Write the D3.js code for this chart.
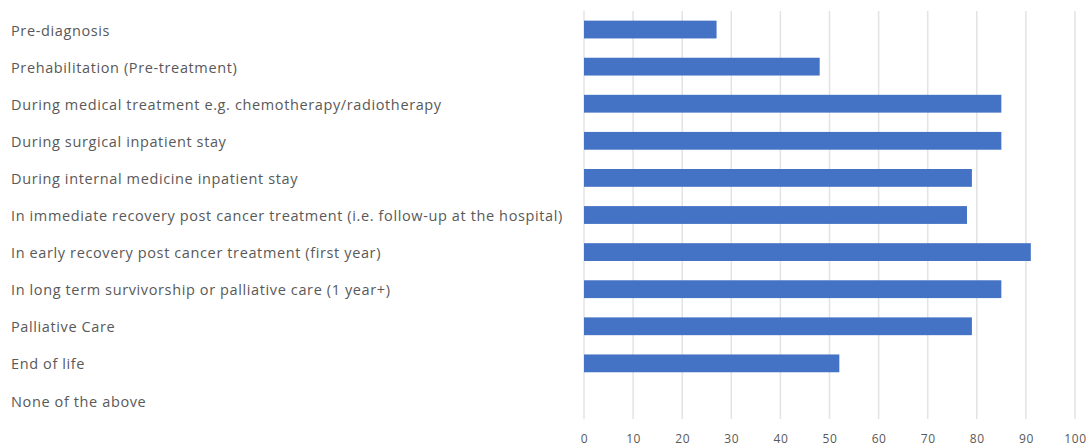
<!DOCTYPE html>
<html>
<head>
<meta charset="utf-8">
<script src="https://cdn.jsdelivr.net/npm/d3@7"></script>
<style>
  html, body { margin: 0; padding: 0; background: #ffffff; }
  svg { display: block; }
</style>
</head>
<body>
<svg id="chart" width="1086" height="447"></svg>
<script>
// Stages of the cancer pathway and the share of responses for each
const stages = [
  "Pre-diagnosis",
  "Prehabilitation (Pre-treatment)",
  "During medical treatment e.g. chemotherapy/radiotherapy",
  "During surgical inpatient stay",
  "During internal medicine inpatient stay",
  "In immediate recovery post cancer treatment (i.e. follow-up at the hospital)",
  "In early recovery post cancer treatment (first year)",
  "In long term survivorship or palliative care (1 year+)",
  "Palliative Care",
  "End of life",
  "None of the above"
];
const responses = [27, 48, 85, 85, 79, 78, 91, 85, 79, 52, 0];
const xTicks = [0, 10, 20, 30, 40, 50, 60, 70, 80, 90, 100];

const svg = d3.select("#chart");
const plotLeft = 584, plotRight = 1075, plotTop = 11, plotBottom = 419;

const x = d3.scaleLinear().domain([0, 100]).range([plotLeft, plotRight]);
const y = d3.scaleBand().domain(stages).range([plotTop, plotBottom])
  .paddingInner(0.52).paddingOuter(0.26);

// Vertical gridlines
svg.append("g")
  .selectAll("line")
  .data(xTicks)
  .join("line")
  .attr("x1", d => x(d)).attr("x2", d => x(d))
  .attr("y1", plotTop).attr("y2", plotBottom)
  .attr("stroke", "#e3e3e3")
  .attr("stroke-width", 1.5);

// Bars
svg.append("g")
  .selectAll("rect")
  .data(stages)
  .join("rect")
  .attr("x", x(0))
  .attr("y", d => y(d))
  .attr("width", (d, i) => x(responses[i]) - x(0))
  .attr("height", y.bandwidth())
  .attr("fill", "#4472c4");

// Category labels
svg.append("g")
  .selectAll("text")
  .data(stages)
  .join("text")
  .attr("x", 11)
  .attr("y", d => y(d) + y.bandwidth() / 2)
  .attr("dy", "0.42em")
  .attr("font-family", "'Open Sans', sans-serif")
  .attr("font-size", 14.5)
  .attr("letter-spacing", 0.62)
  .attr("fill", "#595959")
  .text(d => d);

// Value axis along the bottom
const axis = svg.append("g")
  .attr("transform", `translate(0, ${plotBottom + 12})`)
  .call(d3.axisBottom(x).tickValues(xTicks).tickSize(0).tickPadding(3));
axis.select(".domain").remove();
axis.selectAll("text")
  .attr("font-family", "'Open Sans', sans-serif")
  .attr("font-size", 12)
  .attr("letter-spacing", 0.6)
  .attr("fill", "#595959");
</script>
</body>
</html>
